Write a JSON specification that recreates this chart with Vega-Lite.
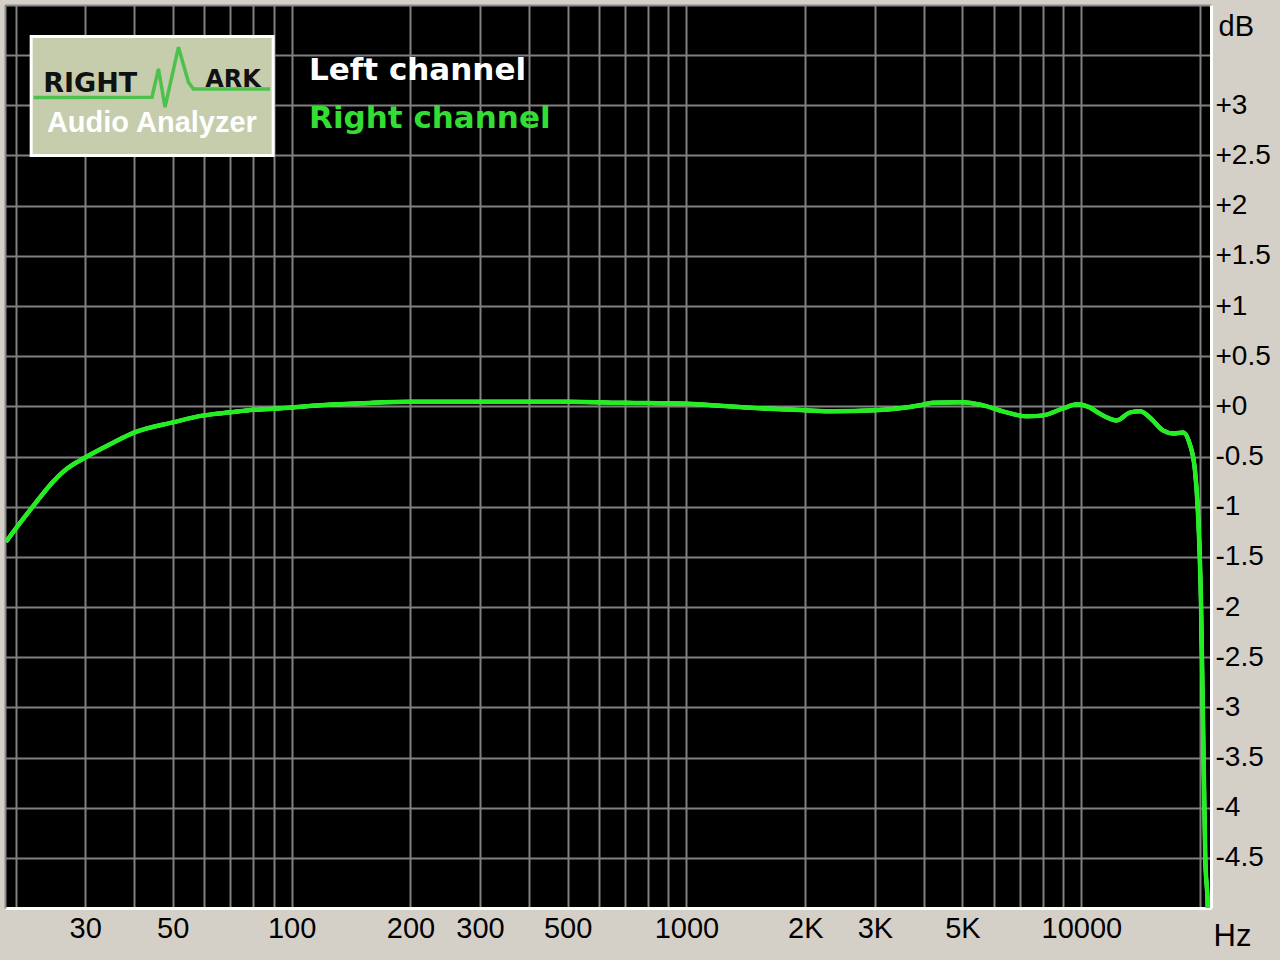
{
  "$schema": "https://vega.github.io/schema/vega-lite/v6.json",
  "width": 1206,
  "height": 903,
  "autosize": {"type": "none"},
  "padding": {"left": 5, "top": 5, "right": 69, "bottom": 52},
  "background": "#d4d0c8",
  "config": {"view": {"fill": "#000000", "stroke": null}},
  "datasets": {
    "response": [
      {"freq": 18.9, "left": -1.35, "right": -1.35},
      {"freq": 20, "left": -1.22, "right": -1.22},
      {"freq": 22.2, "left": -0.99, "right": -0.99},
      {"freq": 24.9, "left": -0.75, "right": -0.75},
      {"freq": 27, "left": -0.62, "right": -0.62},
      {"freq": 30, "left": -0.51, "right": -0.51},
      {"freq": 35, "left": -0.37, "right": -0.37},
      {"freq": 40, "left": -0.26, "right": -0.26},
      {"freq": 50, "left": -0.16, "right": -0.16},
      {"freq": 60, "left": -0.09, "right": -0.09},
      {"freq": 70, "left": -0.06, "right": -0.06},
      {"freq": 80, "left": -0.035, "right": -0.035},
      {"freq": 94, "left": -0.02, "right": -0.02},
      {"freq": 118, "left": 0.01, "right": 0.01},
      {"freq": 130, "left": 0.02, "right": 0.02},
      {"freq": 150, "left": 0.03, "right": 0.03},
      {"freq": 200, "left": 0.045, "right": 0.045},
      {"freq": 300, "left": 0.045, "right": 0.045},
      {"freq": 500, "left": 0.045, "right": 0.045},
      {"freq": 700, "left": 0.035, "right": 0.035},
      {"freq": 1000, "left": 0.025, "right": 0.025},
      {"freq": 1450, "left": -0.015, "right": -0.015},
      {"freq": 2000, "left": -0.04, "right": -0.04},
      {"freq": 2350, "left": -0.05, "right": -0.05},
      {"freq": 3000, "left": -0.04, "right": -0.04},
      {"freq": 3470, "left": -0.02, "right": -0.02},
      {"freq": 3900, "left": 0.01, "right": 0.01},
      {"freq": 4200, "left": 0.035, "right": 0.035},
      {"freq": 5000, "left": 0.04, "right": 0.04},
      {"freq": 5640, "left": 0.01, "right": 0.01},
      {"freq": 6470, "left": -0.06, "right": -0.06},
      {"freq": 7270, "left": -0.1, "right": -0.1},
      {"freq": 8000, "left": -0.09, "right": -0.09},
      {"freq": 9000, "left": -0.02, "right": -0.02},
      {"freq": 9750, "left": 0.02, "right": 0.02},
      {"freq": 10500, "left": -0.01, "right": -0.01},
      {"freq": 11100, "left": -0.07, "right": -0.07},
      {"freq": 12300, "left": -0.14, "right": -0.14},
      {"freq": 13300, "left": -0.06, "right": -0.06},
      {"freq": 14100, "left": -0.05, "right": -0.05},
      {"freq": 14900, "left": -0.11, "right": -0.11},
      {"freq": 16100, "left": -0.24, "right": -0.24},
      {"freq": 17100, "left": -0.27, "right": -0.27},
      {"freq": 18100, "left": -0.26, "right": -0.26},
      {"freq": 18800, "left": -0.37, "right": -0.37},
      {"freq": 19400, "left": -0.64, "right": -0.64},
      {"freq": 19700, "left": -0.99, "right": -0.99},
      {"freq": 20100, "left": -1.98, "right": -1.98},
      {"freq": 20300, "left": -2.98, "right": -2.98},
      {"freq": 20600, "left": -4.5, "right": -4.5},
      {"freq": 20900, "left": -5.0, "right": -5.0},
      {"freq": 21100, "left": -6.0, "right": -6.0}
    ],
    "logoWave": [
      {"freq": 22.2, "db": 3.078},
      {"freq": 44.3, "db": 3.081},
      {"freq": 46.0, "db": 3.364},
      {"freq": 47.8, "db": 2.981},
      {"freq": 51.7, "db": 3.579},
      {"freq": 54.8, "db": 3.23},
      {"freq": 56.4, "db": 3.164},
      {"freq": 88.2, "db": 3.164}
    ],
    "one": [{}]
  },
  "resolve": {"axis": {"x": "independent", "y": "independent"}},
  "layer": [
    {
      "data": {"name": "response"},
      "mark": {"type": "line", "color": "#ffffff", "strokeWidth": 4, "clip": true, "interpolate": "monotone"},
      "encoding": {
        "x": {
          "field": "freq", "type": "quantitative",
          "scale": {"type": "log", "domain": [18.8, 21300], "nice": false},
          "axis": {
            "values": [20, 30, 40, 50, 60, 70, 80, 90, 100, 200, 300, 400, 500, 600, 700, 800, 900, 1000, 2000, 3000, 4000, 5000, 6000, 7000, 8000, 9000, 10000, 20000],
            "labelExpr": "indexof([30, 50, 100, 200, 300, 500, 1000, 10000], datum.value) >= 0 ? '' + datum.value : (indexof([2000, 3000, 5000], datum.value) >= 0 ? (datum.value / 1000) + 'K' : '')",
            "grid": true, "gridColor": "#808080", "gridWidth": 2,
            "ticks": false,
            "domain": true, "domainColor": "#ffffff", "domainWidth": 3,
            "labelFont": "Liberation Sans",
            "labelFontSize": 29, "labelColor": "#000000", "labelPadding": 6,
            "labelFlush": false, "labelOverlap": false, "labelBound": false,
            "title": "Hz", "titleFont": "Liberation Sans",
            "titleFontSize": 31, "titleFontWeight": "normal", "titleColor": "#000000",
            "titleAlign": "left", "titleBaseline": "alphabetic", "titleX": 1208, "titleY": 37
          }
        },
        "y": {
          "field": "left", "type": "quantitative",
          "scale": {"domain": [-5, 4], "nice": false, "zero": false},
          "axis": {
            "orient": "right",
            "values": [-4.5, -4, -3.5, -3, -2.5, -2, -1.5, -1, -0.5, 0, 0.5, 1, 1.5, 2, 2.5, 3, 3.5],
            "labelExpr": "datum.value > 3.4 ? '' : (datum.value >= 0 ? '+' + datum.value : '' + datum.value)",
            "grid": true, "gridColor": "#808080", "gridWidth": 2,
            "ticks": false,
            "domain": true, "domainColor": "#ffffff", "domainWidth": 3,
            "labelFont": "Liberation Sans",
            "labelFontSize": 28, "labelColor": "#000000", "labelPadding": 4,
            "labelAlign": "left", "labelBaseline": "middle",
            "labelFlush": false, "labelOverlap": false, "labelBound": false,
            "title": "dB", "titleFont": "Liberation Sans",
            "titleFontSize": 29, "titleFontWeight": "normal", "titleColor": "#000000",
            "titleAngle": 0, "titleAlign": "left", "titleBaseline": "alphabetic", "titleX": 7, "titleY": 30
          }
        }
      }
    },
    {
      "data": {"name": "response"},
      "mark": {"type": "line", "color": "#22ee22", "strokeWidth": 4.5, "clip": true, "interpolate": "monotone"},
      "encoding": {
        "x": {
          "field": "freq", "type": "quantitative", "scale": {"type": "log"},
          "axis": {"orient": "top", "values": [], "grid": false, "ticks": false, "labels": false, "domain": true, "domainColor": "#8a8a8a", "domainWidth": 2, "title": null}
        },
        "y": {
          "field": "right", "type": "quantitative",
          "axis": {"orient": "left", "values": [], "grid": false, "ticks": false, "labels": false, "domain": true, "domainColor": "#8a8a8a", "domainWidth": 2, "title": null}
        }
      }
    },
    {
      "data": {"name": "one"},
      "mark": {"type": "rect", "fill": "#c5cdac", "stroke": "#ffffff", "strokeWidth": 3},
      "encoding": {
        "x": {"datum": 21.9, "type": "quantitative", "scale": {"type": "log"}, "axis": null},
        "x2": {"datum": 89.8},
        "y": {"datum": 3.685, "type": "quantitative", "axis": null},
        "y2": {"datum": 2.5}
      }
    },
    {
      "data": {"name": "logoWave"},
      "mark": {"type": "line", "color": "#4cc24c", "strokeWidth": 3.5},
      "encoding": {
        "x": {"field": "freq", "type": "quantitative", "scale": {"type": "log"}, "axis": null},
        "y": {"field": "db", "type": "quantitative", "axis": null}
      }
    },
    {
      "data": {"name": "one"},
      "mark": {"type": "text", "text": "RIGHT", "font": "DejaVu Sans", "fontWeight": "bold", "fontSize": 27, "align": "left", "baseline": "alphabetic", "color": "#111111"},
      "encoding": {
        "x": {"datum": 23.5, "type": "quantitative", "scale": {"type": "log"}, "axis": null},
        "y": {"datum": 3.13, "type": "quantitative", "axis": null}
      }
    },
    {
      "data": {"name": "one"},
      "mark": {"type": "text", "text": "ARK", "font": "DejaVu Sans", "fontWeight": "bold", "fontSize": 24, "align": "left", "baseline": "alphabetic", "color": "#111111"},
      "encoding": {
        "x": {"datum": 60.4, "type": "quantitative", "scale": {"type": "log"}, "axis": null},
        "y": {"datum": 3.18, "type": "quantitative", "axis": null}
      }
    },
    {
      "data": {"name": "one"},
      "mark": {"type": "text", "text": "Audio Analyzer", "font": "Liberation Sans", "fontWeight": "bold", "fontSize": 29, "align": "left", "baseline": "alphabetic", "color": "#ffffff"},
      "encoding": {
        "x": {"datum": 24.0, "type": "quantitative", "scale": {"type": "log"}, "axis": null},
        "y": {"datum": 2.73, "type": "quantitative", "axis": null}
      }
    },
    {
      "data": {"name": "one"},
      "mark": {"type": "text", "text": "Left channel", "font": "DejaVu Sans", "fontWeight": "bold", "fontSize": 31, "align": "left", "baseline": "alphabetic", "color": "#ffffff"},
      "encoding": {
        "x": {"datum": 110.7, "type": "quantitative", "scale": {"type": "log"}, "axis": null},
        "y": {"datum": 3.257, "type": "quantitative", "axis": null}
      }
    },
    {
      "data": {"name": "one"},
      "mark": {"type": "text", "text": "Right channel", "font": "DejaVu Sans", "fontWeight": "bold", "fontSize": 31, "align": "left", "baseline": "alphabetic", "color": "#33dd33"},
      "encoding": {
        "x": {"datum": 110.7, "type": "quantitative", "scale": {"type": "log"}, "axis": null},
        "y": {"datum": 2.779, "type": "quantitative", "axis": null}
      }
    }
  ]
}
